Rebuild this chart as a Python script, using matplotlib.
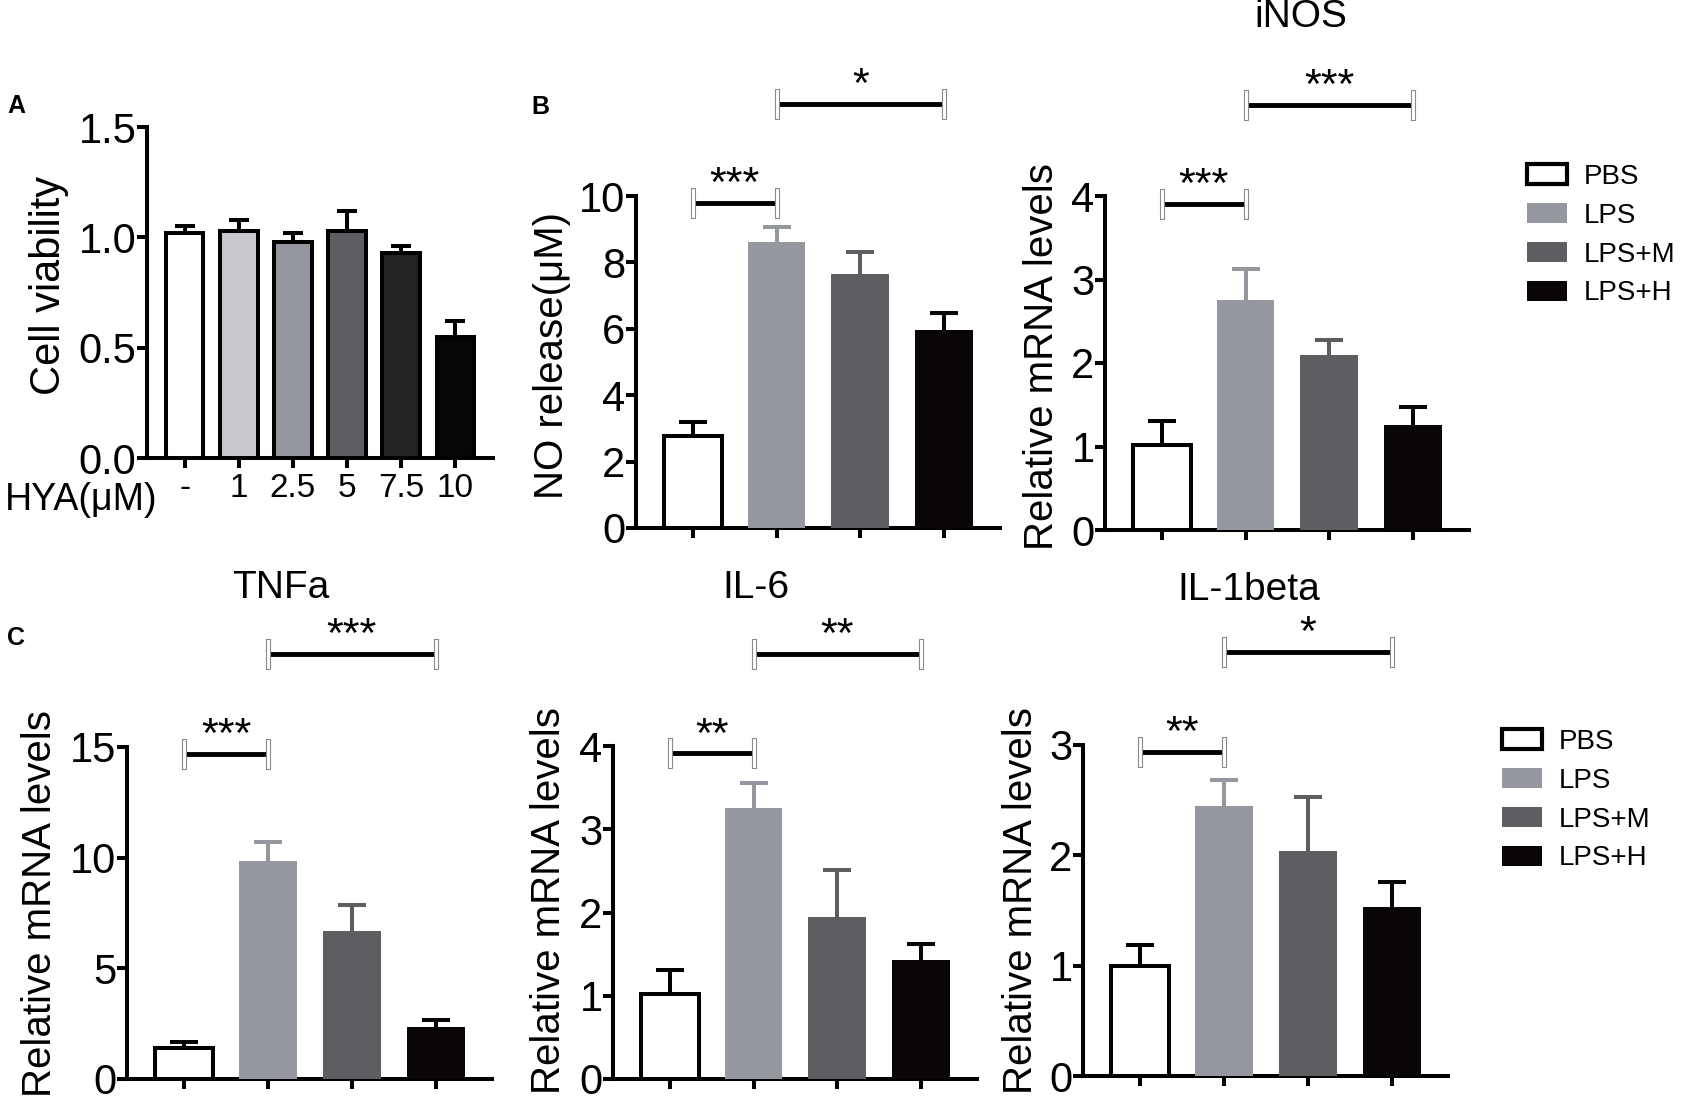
import numpy as np
import matplotlib
matplotlib.use("Agg")
from matplotlib import pyplot as plt
from matplotlib.patches import Patch

plt.rcParams['font.family'] = ['Liberation Sans', 'DejaVu Sans']

W, H = 1682, 1103

# panel A: cell viability vs HYA dose
hya_labels = ["-", "1", "2.5", "5", "7.5", "10"]
viability = [1.02, 1.03, 0.98, 1.03, 0.93, 0.55]
viability_err = [0.03, 0.05, 0.04, 0.09, 0.03, 0.07]
hya_colors = ["#ffffff", "#c8c9cc", "#95979e", "#5d5e61", "#222222", "#080506"]

# panels B and C: treatment groups
groups = ["PBS", "LPS", "LPS+M", "LPS+H"]
group_colors = ["#ffffff", "#96989f", "#5d5e61", "#0a0606"]

no_release = [2.78, 8.62, 7.65, 5.96]
no_err = [0.40, 0.45, 0.67, 0.51]
inos = [1.02, 2.76, 2.09, 1.26]
inos_err = [0.29, 0.36, 0.18, 0.21]
tnfa = [1.40, 9.83, 6.67, 2.35]
tnfa_err = [0.27, 0.88, 1.18, 0.33]
il6 = [1.02, 3.25, 1.94, 1.43]
il6_err = [0.29, 0.30, 0.57, 0.19]
il1b = [1.00, 2.45, 2.04, 1.53]
il1b_err = [0.19, 0.23, 0.49, 0.23]

# significance brackets: (from bar, to bar, height, label)
no_sig = [(0, 1, 9.78, "***"), (1, 3, 12.78, "*")]
inos_sig = [(0, 1, 3.91, "***"), (1, 3, 5.09, "***")]
tnfa_sig = [(0, 1, 14.68, "***"), (1, 3, 19.2, "***")]
il6_sig = [(0, 1, 3.91, "**"), (1, 3, 5.11, "**")]
il1b_sig = [(0, 1, 2.94, "**"), (1, 3, 3.84, "*")]

LW = 2.9
cap_marker = [(-0.16, -1), (0.16, -1), (0.16, 1), (-0.16, 1), (-0.16, -1)]


def axes_px(fig, left, top, right, bottom):
    return fig.add_axes([left / W, 1 - bottom / H, (right - left) / W, (bottom - top) / H])


def style(ax, size):
    for s in ['top', 'right']:
        ax.spines[s].set_visible(False)
    for s in ['left', 'bottom']:
        ax.spines[s].set_linewidth(LW)
    ax.tick_params(axis='y', width=LW, length=7, labelsize=size, pad=0.5)
    ax.tick_params(axis='x', width=LW, length=7)


def upper_errorbar(ax, x, y, err, color, capsize):
    # only the upper half of the error bar, like the original
    lower = np.zeros(np.size(err))
    _, caps, _ = ax.errorbar(x, y, yerr=[lower, err], fmt='none', ecolor=color,
                             elinewidth=LW, capsize=capsize, capthick=LW, zorder=2)
    caps[0].set_visible(False)


def bracket(ax, i, j, y, label):
    ax.plot([i, j], [y, y], color='black', lw=3.5, clip_on=False,
            solid_capstyle='butt', zorder=5)
    ax.plot([i, j], [y, y], linestyle='none', marker=cap_marker, markersize=22,
            mfc='white', mec='#8a8a8a', mew=0.8, clip_on=False, zorder=6)
    ax.annotate(label, xy=((i + j) / 2, y), xytext=(0, 5), textcoords='offset points',
                ha='center', va='baseline', fontsize=31, annotation_clip=False)


def group_panel(ax, vals, errs, ymax, yticks, sig, ylabel, label_x, label_y):
    x = np.arange(len(groups))
    for i in range(len(groups)):
        col = group_colors[i]
        ecol = 'black' if i == 0 else col
        ax.bar(x[i], vals[i], width=0.69, color=col, edgecolor=ecol,
               linewidth=LW if i == 0 else 0, zorder=3)
        upper_errorbar(ax, [x[i]], [vals[i]], [errs[i]], ecol, 10)
    ax.set_xlim(-0.68, 3.67)
    ax.set_ylim(0, ymax)
    ax.set_xticks(x)
    ax.set_xticklabels([])
    ax.set_yticks(yticks)
    style(ax, 30)
    ax.set_ylabel(ylabel, fontsize=29)
    ax.yaxis.set_label_coords(label_x, label_y)
    for i, j, y, lab in sig:
        bracket(ax, i, j, y, lab)


fig = plt.figure(figsize=(W / 100, H / 100), dpi=100)

# ---- A ----
axA = axes_px(fig, 147, 127, 493, 458)
xa = np.arange(len(hya_labels))
axA.bar(xa, viability, width=0.69, color=hya_colors, edgecolor='black', linewidth=LW, zorder=3)
upper_errorbar(axA, xa, viability, viability_err, 'black', 7)
axA.set_xlim(-0.7, 5.7)
axA.set_ylim(0, 1.5)
axA.set_yticks([0, 0.5, 1.0, 1.5])
axA.set_yticklabels(["0.0", "0.5", "1.0", "1.5"])
axA.set_xticks(xa)
axA.set_xticklabels(hya_labels, fontsize=24)
style(axA, 30)
axA.tick_params(axis='x', pad=4)
axA.set_ylabel("Cell viability", fontsize=30)
axA.yaxis.set_label_coords(-0.225, 0.52)
fig.text(157 / W, 1 - 510 / H, "HYA(\u03bcM)", fontsize=27, ha='right', va='baseline')

# ---- B ----
axB1 = axes_px(fig, 636, 196, 1000, 528)
group_panel(axB1, no_release, no_err, 10, [0, 2, 4, 6, 8, 10], no_sig,
            "NO release(\u03bcM)", -0.178, 0.52)
axB2 = axes_px(fig, 1105, 196, 1469, 530)
group_panel(axB2, inos, inos_err, 4, [0, 1, 2, 3, 4], inos_sig,
            "Relative mRNA levels", -0.121, 0.52)

# ---- C ----
axC1 = axes_px(fig, 127, 747, 492, 1079)
group_panel(axC1, tnfa, tnfa_err, 15, [0, 5, 10, 15], tnfa_sig,
            "Relative mRNA levels", -0.186, 0.53)
axC2 = axes_px(fig, 613, 746, 977, 1079)
group_panel(axC2, il6, il6_err, 4, [0, 1, 2, 3, 4], il6_sig,
            "Relative mRNA levels", -0.124, 0.535)
axC3 = axes_px(fig, 1083, 745, 1448, 1076)
group_panel(axC3, il1b, il1b_err, 3, [0, 1, 2, 3], il1b_sig,
            "Relative mRNA levels", -0.118, 0.53)

# titles
for txt, x, y in [("iNOS", 1301, 27), ("TNFa", 281, 598), ("IL-6", 756, 598), ("IL-1beta", 1249, 600)]:
    fig.text(x / W, 1 - y / H, txt, fontsize=28, ha='center', va='baseline')

# panel letters
for txt, x, y in [("A", 7, 113), ("B", 531, 114), ("C", 7, 645)]:
    fig.text(x / W, 1 - y / H, txt, fontsize=18, fontweight='bold', ha='left', va='baseline')

# legends
handles = []
for i, g in enumerate(groups):
    handles.append(Patch(facecolor=group_colors[i], edgecolor='black' if i == 0 else group_colors[i],
                         linewidth=3 if i == 0 else 0, label=g))
for lx, ty in [(1527, 164), (1502, 729)]:
    fig.legend(handles=handles, loc='upper left', bbox_to_anchor=(lx / W, 1 - ty / H),
               frameon=False, fontsize=20, handlelength=1.44, handleheight=0.72,
               handletextpad=0.62, labelspacing=0.46, borderpad=0, borderaxespad=0)

fig.savefig("out.png", dpi=100)
